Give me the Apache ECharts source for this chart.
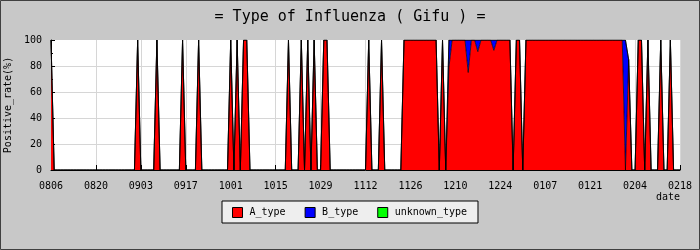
<!DOCTYPE html>
<html>
<head>
<meta charset="utf-8">
<script src="https://cdn.jsdelivr.net/npm/echarts@6/dist/echarts.min.js"></script>
<style>
html,body{margin:0;padding:0;background:#c8c8c8;}
#chart{width:700px;height:250px;}
</style>
</head>
<body>
<div id="chart"></div>
<script>
// x-axis: day index 0 = 08/06 ... 196 = 02/18 (one value per day)
const tickLabels = ['0806','0820','0903','0917','1001','1015','1029','1112','1126','1210','1224','0107','0121','0204','0218'];
const seriesNames = ['A_type','B_type','unknown_type'];

// A_type positive rate (%) per day, rows of 14 days starting at each tick date
const aType = [
  100,0,0,0,0,0,0,0,0,0,0,0,0,0,
  0,0,0,0,0,0,0,0,0,0,0,0,0,100,
  0,0,0,0,0,100,0,0,0,0,0,0,0,100,
  0,0,0,0,100,0,0,0,0,0,0,0,0,0,
  100,0,100,0,100,100,0,0,0,0,0,0,0,0,
  0,0,0,0,100,0,0,0,100,0,100,0,100,0,
  0,100,100,0,0,0,0,0,0,0,0,0,0,0,
  0,100,0,0,0,100,0,0,0,0,0,0,100,100,
  100,100,100,100,100,100,100,100,100,0,100,0,79,100,
  100,100,100,100,75,100,100,91,100,100,100,100,92,100,
  100,100,100,100,0,100,100,0,100,100,100,100,100,100,
  100,100,100,100,100,100,100,100,100,100,100,100,100,100,
  100,100,100,100,100,100,100,100,100,100,100,0,85,0,
  0,100,100,0,100,0,0,0,100,0,0,100,0,0,
  0
];

// B_type positive rate (%) per day
const bType = [
  0,0,0,0,0,0,0,0,0,0,0,0,0,0,
  0,0,0,0,0,0,0,0,0,0,0,0,0,0,
  0,0,0,0,0,0,0,0,0,0,0,0,0,0,
  0,0,0,0,0,0,0,0,0,0,0,0,0,0,
  0,0,0,0,0,0,0,0,0,0,0,0,0,0,
  0,0,0,0,0,0,0,0,0,0,0,0,0,0,
  0,0,0,0,0,0,0,0,0,0,0,0,0,0,
  0,0,0,0,0,0,0,0,0,0,0,0,0,0,
  0,0,0,0,0,0,0,0,0,0,0,0,21,0,
  0,0,0,0,25,0,0,9,0,0,0,0,8,0,
  0,0,0,0,0,0,0,0,0,0,0,0,0,0,
  0,0,0,0,0,0,0,0,0,0,0,0,0,0,
  0,0,0,0,0,0,0,0,0,0,0,100,0,0,
  0,0,0,0,0,0,0,0,0,0,0,0,0,0,
  0
];

// unknown_type positive rate (%) per day
const unknownType = [
  0,0,0,0,0,0,0,0,0,0,0,0,0,0,
  0,0,0,0,0,0,0,0,0,0,0,0,0,0,
  0,0,0,0,0,0,0,0,0,0,0,0,0,0,
  0,0,0,0,0,0,0,0,0,0,0,0,0,0,
  0,0,0,0,0,0,0,0,0,0,0,0,0,0,
  0,0,0,0,0,0,0,0,0,0,0,0,0,0,
  0,0,0,0,0,0,0,0,0,0,0,0,0,0,
  0,0,0,0,0,0,0,0,0,0,0,0,0,0,
  0,0,0,0,0,0,0,0,0,0,0,0,0,0,
  0,0,0,0,0,0,0,0,0,0,0,0,0,0,
  0,0,0,0,0,0,0,0,0,0,0,0,0,0,
  0,0,0,0,0,0,0,0,0,0,0,0,0,0,
  0,0,0,0,0,0,0,0,0,0,0,0,0,0,
  0,0,0,0,0,0,0,0,0,0,0,0,0,0,
  0
];

const seriesColors = ['#ff0000','#0000ff','#00ff00'];
const FONT = 'DejaVu Sans Mono';
const DAYS_PER_TICK = 14;

const chart = echarts.init(document.getElementById('chart'), null, {renderer:'canvas'});
const values = [aType, bType, unknownType];
const dayIndex = aType.map(function (_, i) { return String(i); });

const option = {
  backgroundColor: '#c8c8c8',
  animation: false,
  title: {
    text: '= Type of Influenza ( Gifu ) =',
    left: 'center',
    top: 5,
    textStyle: {fontFamily: FONT, fontSize: 15, fontWeight: 'normal', color: '#000'}
  },
  grid: {
    left: 51, right: 20, top: 40, bottom: 80,
    outerBoundsMode: 'none',
    containLabel: false,
    show: true, backgroundColor: '#ffffff', borderWidth: 0
  },
  legend: {
    data: seriesNames,
    left: 222, top: 201,
    icon: 'rect',
    itemWidth: 10, itemHeight: 10, itemGap: 19,
    backgroundColor: '#eeeeee',
    borderColor: '#000', borderWidth: 1,
    padding: [6, 11, 5, 10],
    itemStyle: {borderColor: '#000', borderWidth: 1},
    textStyle: {fontFamily: FONT, fontSize: 10, color: '#000', padding: [0,0,0,2]}
  },
  xAxis: {
    type: 'category',
    data: dayIndex,
    boundaryGap: false,
    name: 'date',
    nameLocation: 'end',
    nameGap: 0,
    nameTextStyle: {fontFamily: FONT, fontSize: 10, color: '#000', align: 'right', verticalAlign: 'top', padding: [22, 0, 0, 0]},
    axisLine: {show: true, lineStyle: {color: '#000', width: 1}},
    axisTick: {show: true, inside: true, length: 5, interval: DAYS_PER_TICK - 1, lineStyle: {color: '#000'}},
    axisLabel: {
      fontFamily: FONT, fontSize: 10, color: '#000', margin: 11,
      interval: DAYS_PER_TICK - 1,
      formatter: function (v, idx) { return tickLabels[Math.round(idx / DAYS_PER_TICK)]; }
    },
    splitLine: {show: true, interval: DAYS_PER_TICK - 1, lineStyle: {color: '#d6d6d6', width: 1}}
  },
  yAxis: {
    type: 'value',
    min: 0, max: 100, interval: 20,
    name: 'Positive_rate(%)',
    nameLocation: 'middle',
    nameGap: 30,
    nameRotate: 90,
    nameTextStyle: {fontFamily: FONT, fontSize: 10, color: '#000'},
    axisLine: {show: true, lineStyle: {color: '#000', width: 1}},
    axisTick: {show: true, inside: true, length: 4, lineStyle: {color: '#000'}},
    minorTick: {show: true, splitNumber: 2, length: 2, lineStyle: {color: '#000'}},
    axisLabel: {fontFamily: FONT, fontSize: 10, color: '#000', margin: 9},
    splitLine: {show: true, lineStyle: {color: ['#d6d6d6','#d6d6d6','#d6d6d6','#d6d6d6','#d6d6d6','rgba(0,0,0,0)'], width: 1}}
  },
  series: seriesNames.map(function (name, k) {
    return {
      name: name,
      type: 'line',
      stack: 'rate',
      color: seriesColors[k],
      symbol: 'none',
      showSymbol: false,
      lineStyle: {color: '#000', width: 0.7},
      areaStyle: {color: seriesColors[k], opacity: 1},
      data: values[k]
    };
  }),
  graphic: [{
    type: 'rect',
    silent: true,
    z: 100,
    shape: {x: 0.5, y: 0.5, width: 699, height: 249},
    style: {fill: 'none', stroke: '#404040', lineWidth: 1}
  }]
};
chart.setOption(option);
</script>
</body>
</html>
